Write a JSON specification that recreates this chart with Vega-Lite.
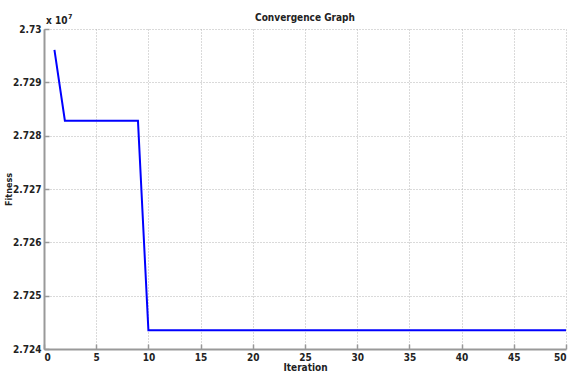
{
  "$schema": "https://vega.github.io/schema/vega-lite/v6.json",
  "width": 522,
  "height": 320,
  "autosize": {"type": "none"},
  "padding": {"left": 44, "top": 29, "right": 4, "bottom": 27},
  "background": "white",
  "config": {
    "view": {"stroke": null},
    "font": "DejaVu Sans Condensed",
    "axis": {
      "domainColor": "#999999",
      "domainWidth": 2,
      "tickColor": "#999999",
      "tickSize": -5,
      "tickWidth": 1.5,
      "gridColor": "#b4b4b4",
      "gridDash": [1, 2],
      "gridWidth": 1,
      "labelFont": "DejaVu Sans Condensed",
      "labelFontWeight": "bold",
      "labelFontSize": 10,
      "labelColor": "#222222",
      "titleFont": "DejaVu Sans Condensed",
      "titleFontWeight": "bold",
      "titleFontSize": 10,
      "titleColor": "#222222"
    }
  },
  "title": {
    "text": "Convergence Graph",
    "font": "DejaVu Sans Condensed",
    "fontSize": 10,
    "fontWeight": "bold",
    "color": "#222222",
    "offset": -10
  },
  "data": {
    "values": [
      {"iteration": 1, "fitness": 2.72961},
      {"iteration": 2, "fitness": 2.72828},
      {"iteration": 3, "fitness": 2.72828},
      {"iteration": 4, "fitness": 2.72828},
      {"iteration": 5, "fitness": 2.72828},
      {"iteration": 6, "fitness": 2.72828},
      {"iteration": 7, "fitness": 2.72828},
      {"iteration": 8, "fitness": 2.72828},
      {"iteration": 9, "fitness": 2.72828},
      {"iteration": 10, "fitness": 2.72435},
      {"iteration": 11, "fitness": 2.72435},
      {"iteration": 12, "fitness": 2.72435},
      {"iteration": 13, "fitness": 2.72435},
      {"iteration": 14, "fitness": 2.72435},
      {"iteration": 15, "fitness": 2.72435},
      {"iteration": 16, "fitness": 2.72435},
      {"iteration": 17, "fitness": 2.72435},
      {"iteration": 18, "fitness": 2.72435},
      {"iteration": 19, "fitness": 2.72435},
      {"iteration": 20, "fitness": 2.72435},
      {"iteration": 21, "fitness": 2.72435},
      {"iteration": 22, "fitness": 2.72435},
      {"iteration": 23, "fitness": 2.72435},
      {"iteration": 24, "fitness": 2.72435},
      {"iteration": 25, "fitness": 2.72435},
      {"iteration": 26, "fitness": 2.72435},
      {"iteration": 27, "fitness": 2.72435},
      {"iteration": 28, "fitness": 2.72435},
      {"iteration": 29, "fitness": 2.72435},
      {"iteration": 30, "fitness": 2.72435},
      {"iteration": 31, "fitness": 2.72435},
      {"iteration": 32, "fitness": 2.72435},
      {"iteration": 33, "fitness": 2.72435},
      {"iteration": 34, "fitness": 2.72435},
      {"iteration": 35, "fitness": 2.72435},
      {"iteration": 36, "fitness": 2.72435},
      {"iteration": 37, "fitness": 2.72435},
      {"iteration": 38, "fitness": 2.72435},
      {"iteration": 39, "fitness": 2.72435},
      {"iteration": 40, "fitness": 2.72435},
      {"iteration": 41, "fitness": 2.72435},
      {"iteration": 42, "fitness": 2.72435},
      {"iteration": 43, "fitness": 2.72435},
      {"iteration": 44, "fitness": 2.72435},
      {"iteration": 45, "fitness": 2.72435},
      {"iteration": 46, "fitness": 2.72435},
      {"iteration": 47, "fitness": 2.72435},
      {"iteration": 48, "fitness": 2.72435},
      {"iteration": 49, "fitness": 2.72435},
      {"iteration": 50, "fitness": 2.72435}
    ]
  },
  "layer": [
    {
      "mark": {"type": "line", "color": "#0000ff", "strokeWidth": 2},
      "encoding": {
        "x": {
          "field": "iteration",
          "type": "quantitative",
          "scale": {"domain": [0, 50], "nice": false, "zero": false},
          "axis": {"values": [0, 5, 10, 15, 20, 25, 30, 35, 40, 45, 50], "title": "Iteration", "titlePadding": 0, "labelPadding": 8}
        },
        "y": {
          "field": "fitness",
          "type": "quantitative",
          "scale": {"domain": [2.724, 2.73], "nice": false, "zero": false},
          "axis": {"values": [2.724, 2.725, 2.726, 2.727, 2.728, 2.729, 2.73], "format": ".3~f", "title": "Fitness", "titleX": -31, "titleFontSize": 9, "labelPadding": 8}
        }
      }
    },
    {
      "data": {"values": [{"iteration": 0, "fitness": 2.73, "label": "x 10"}]},
      "mark": {"type": "text", "align": "left", "baseline": "bottom", "dx": 2, "dy": -3, "fontSize": 10, "fontWeight": "bold", "color": "#222222", "font": "DejaVu Sans Condensed"},
      "encoding": {
        "x": {"field": "iteration", "type": "quantitative"},
        "y": {"field": "fitness", "type": "quantitative"},
        "text": {"field": "label"}
      }
    },
    {
      "data": {"values": [{"iteration": 0, "fitness": 2.73, "label": "7"}]},
      "mark": {"type": "text", "align": "left", "baseline": "bottom", "dx": 24, "dy": -9, "fontSize": 7, "fontWeight": "bold", "color": "#222222", "font": "DejaVu Sans Condensed"},
      "encoding": {
        "x": {"field": "iteration", "type": "quantitative"},
        "y": {"field": "fitness", "type": "quantitative"},
        "text": {"field": "label"}
      }
    }
  ]
}
